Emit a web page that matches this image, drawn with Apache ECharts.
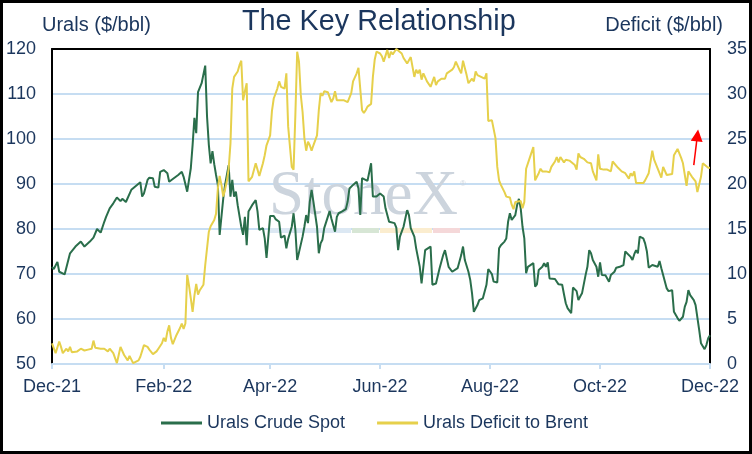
<!DOCTYPE html>
<html><head><meta charset="utf-8">
<script src="https://cdn.jsdelivr.net/npm/echarts@6/dist/echarts.min.js"></script>
<style>html,body{margin:0;padding:0;background:#fff}#c{width:752px;height:454px}</style>
</head><body><div id="c"></div>
<script>
// Axis: every calendar day from 1 Dec 2021 to 1 Dec 2022
const startYear = 2021, startMonth = 11, startDay = 1;
const dayCount = 366;
const tickDates = ['2021-12-01','2022-02-01','2022-04-01','2022-06-01','2022-08-01','2022-10-01','2022-12-01'];
const tickLabels = ['Dec-21','Feb-22','Apr-22','Jun-22','Aug-22','Oct-22','Dec-22'];

// Urals Crude Spot ($/bbl) — day = days since 1 Dec 2021
const uralsDay = [0,1,3,4,7,10,13,16,17,18,21,23,24,25,26,27,28,29,30,31,32,34,36,38,39,41,42,44,46,49,50,51,53,54,56,57,58,59,60,62,63,64,65,67,70,72,73,75,76,77,78,79,80,81,83,85,86,87,88,89,90,91,92,93,94,95,96,97,98,99,100,101,102,103,105,106,107,108,109,111,113,114,115,116,117,118,119,121,123,124,126,127,128,129,130,131,133,134,135,136,137,138,139,140,141,142,143,144,145,147,148,149,150,151,153,154,155,157,158,159,161,163,164,165,167,168,169,170,171,172,173,175,177,178,180,181,182,184,185,186,187,188,190,191,192,193,194,195,196,197,198,199,201,202,204,205,207,208,210,211,213,215,217,218,220,222,223,225,226,227,228,229,231,232,233,234,236,237,239,240,241,242,244,245,246,247,248,249,251,252,253,254,255,257,258,259,260,261,262,263,264,265,267,268,269,270,272,273,274,275,276,279,280,281,283,284,285,286,288,289,291,292,293,294,296,297,298,299,300,302,303,304,305,307,308,309,310,312,313,315,317,318,319,321,322,323,324,325,326,328,329,330,331,333,334,336,337,338,339,341,342,344,345,347,348,350,351,352,353,354,356,357,359,360,362,363,364,365];
const uralsPrice = [71.6,71.1,72.7,70.5,69.9,74.6,76.1,77.2,77.1,76.1,77.2,78.1,78.3,80.0,79.6,79.2,78.8,81.6,82.7,82.3,84.6,85.7,87.0,86.2,86.7,86.0,85.7,88.7,89.4,90.4,87.2,87.9,90.9,91.4,91.3,89.4,89.8,89.2,92.7,93.1,93.3,92.4,90.5,91.1,92.0,92.7,91.6,88.3,90.9,93.5,98.7,104.7,101.3,110.4,112.4,116.3,105.0,98.7,94.6,97.3,94.4,92.0,89.8,78.7,78.3,86.8,89.8,92.0,94.2,87.2,90.9,87.2,88.3,85.3,80.5,78.7,82.7,76.4,83.9,85.3,86.4,83.9,79.8,79.4,80.2,77.9,73.6,82.9,82.9,82.2,81.6,78.1,78.0,78.5,75.7,77.8,80.5,83.5,79.8,73.1,74.8,74.6,78.3,80.5,83.1,81.3,86.1,88.7,86.1,80.5,74.6,76.8,77.6,80.2,82.7,84.0,82.3,79.4,82.7,83.5,83.9,84.4,86.1,89.0,89.8,90.1,90.5,89.0,83.1,91.3,91.3,90.7,94.6,87.2,87.2,87.6,87.9,87.2,84.6,84.7,81.6,81.8,81.3,80.3,75.3,78.3,79.4,80.5,80.9,84.2,83.1,80.2,78.3,75.7,71.6,67.9,75.3,75.7,76.1,67.6,67.9,71.3,74.2,75.3,71.6,70.5,70.9,71.3,71.3,74.2,76.1,73.1,70.5,68.7,65.7,61.6,63.1,64.2,64.6,64.7,67.6,71.1,70.0,68.3,67.9,68.1,75.7,76.4,77.2,77.9,81.6,83.5,82.0,83.1,85.3,86.7,84.6,80.5,77.9,70.2,71.6,71.9,72.4,67.2,67.7,70.9,71.6,72.4,71.6,72.6,69.0,68.9,68.7,67.7,67.6,65.5,63.5,62.4,61.3,67.0,66.2,64.2,65.0,65.7,69.8,71.6,75.3,74.6,73.1,71.6,69.4,72.6,69.8,69.7,69.9,68.3,69.8,70.5,71.4,71.6,72.0,75.0,74.6,73.8,73.1,74.4,75.3,74.6,78.3,77.9,76.8,75.0,71.4,72.0,71.9,71.6,72.9,71.3,69.8,66.8,66.2,66.4,61.6,60.2,59.6,60.5,62.7,63.8,66.4,65.3,64.2,63.1,57.6,54.6,53.3,54.2,55.7,56.4];

// Urals Deficit to Brent ($/bbl)
const deficitDay = [0,1,2,4,5,6,8,9,10,11,14,16,17,18,20,22,23,24,27,29,30,31,32,34,36,37,38,40,42,43,45,46,48,49,51,53,54,56,58,59,60,61,62,63,64,65,66,67,68,69,71,72,73,74,75,76,77,78,79,80,81,82,84,85,87,88,90,91,92,93,94,95,96,97,98,99,100,101,103,104,105,106,107,108,109,111,112,113,115,116,117,118,119,121,122,123,125,126,127,128,129,130,131,133,134,135,136,137,138,139,140,141,142,143,144,145,147,148,149,150,151,153,154,155,156,157,158,160,162,164,166,167,169,170,172,173,174,175,177,178,179,180,182,183,184,186,187,188,189,190,191,192,194,195,197,198,199,201,202,203,204,205,206,208,209,210,212,213,214,216,217,218,219,220,222,223,224,226,227,228,229,230,231,233,234,235,236,238,240,241,242,244,245,246,247,248,249,251,252,253,254,255,256,257,258,260,261,262,263,264,265,267,268,269,270,271,272,273,274,276,277,279,280,281,282,284,285,287,288,290,291,292,293,295,296,297,299,300,302,303,304,306,307,308,310,311,312,314,315,316,317,318,320,321,322,323,324,325,326,328,329,331,332,333,334,336,337,338,339,341,342,344,345,346,347,349,350,352,353,354,355,357,358,360,361,362,364,365];
const deficitValue = [2.3,2.1,1.2,2.5,1.9,1.2,1.7,1.4,1.9,1.3,1.4,1.7,1.8,1.5,1.6,1.7,2.6,1.8,1.7,1.7,1.8,1.4,1.7,1.2,0.1,1.0,1.9,1.0,0.4,0.9,0.1,0.3,0.4,0.8,2.1,1.9,1.6,1.1,1.4,1.7,1.5,2.3,2.9,2.5,3.6,4.3,2.9,2.2,2.3,3.2,4.0,4.5,3.9,4.5,9.9,8.7,7.3,5.8,7.6,8.9,7.7,8.2,8.8,11.0,14.7,15.3,16.0,16.7,19.5,20.9,19.9,18.6,19.4,20.3,21.7,24.5,30.6,31.9,32.5,33.2,33.7,29.3,30.3,31.2,20.3,20.8,21.0,22.3,20.9,21.0,22.3,23.2,24.3,25.4,28.1,29.5,30.6,31.4,30.8,30.9,30.6,32.3,26.4,21.9,21.6,27.7,34.7,33.6,29.9,28.0,25.1,23.7,24.7,24.3,23.7,24.3,25.4,28.2,30.1,29.8,30.3,30.2,30.1,29.1,29.5,30.3,29.3,29.3,29.3,29.1,30.1,31.4,32.3,32.9,28.2,27.9,28.2,28.6,28.9,31.9,33.8,34.7,34.5,34.2,33.6,34.9,34.0,34.7,34.4,34.6,35.0,34.9,34.5,34.0,33.4,33.2,34.1,31.9,32.7,32.3,32.7,31.6,32.3,31.4,31.2,30.8,31.9,31.0,31.4,31.7,31.9,31.7,32.3,32.1,32.7,33.0,33.6,32.7,32.3,33.7,32.9,32.1,31.2,31.7,31.4,32.5,32.1,31.9,31.7,32.3,27.0,27.1,27.3,25.1,21.9,20.4,19.9,19.1,18.6,18.4,18.5,17.7,17.2,18.0,18.2,18.1,17.3,18.0,21.7,21.6,22.9,24.1,20.4,20.8,21.2,21.7,21.4,21.2,21.4,21.3,21.9,22.5,23.0,22.4,23.0,22.4,22.7,22.6,22.7,22.1,21.6,23.4,23.0,22.8,22.7,22.4,22.3,21.4,20.4,23.3,21.7,21.6,21.7,21.6,21.4,22.5,22.3,21.8,21.6,21.4,21.6,21.2,20.6,21.2,20.9,21.4,20.1,20.3,20.1,20.1,20.4,21.2,21.4,23.7,22.7,21.7,21.6,20.7,21.9,21.0,20.9,21.1,23.2,23.4,23.9,22.9,22.3,19.8,21.4,21.2,20.8,20.3,19.1,20.8,22.3,22.1,21.8,21.8];

// Red annotation arrow (day, deficit value)
const arrowFrom = [356, 22.1];
const arrowTo = [358, 25.4];

const categories = [];
const t0 = Date.UTC(startYear, startMonth, startDay);
for (let i = 0; i < dayCount; i++) {
  categories.push(new Date(t0 + i * 86400000).toISOString().slice(0, 10));
}
const isTick = (idx, val) => tickDates.indexOf(val) >= 0;

const NAVY = '#1B365D';
const GRID = '#C6DDF2';
const GREEN = '#2A6E4B';
const YELLOW = '#E6D04B';
const FONT = '"Liberation Sans", Arial, sans-serif';

const chart = echarts.init(document.getElementById('c'));
chart.setOption({
  animation: false,
  backgroundColor: '#fff',
  title: [
    { text: 'The Key Relationship', left: 242, top: 7.9, padding: 0,
      textStyle: { fontSize: 28.8, fontWeight: 'normal', color: NAVY, fontFamily: FONT } },
    { text: 'Urals ($/bbl)', left: 42, top: 15.4, padding: 0,
      textStyle: { fontSize: 20, fontWeight: 'normal', color: NAVY, fontFamily: FONT } },
    { text: 'Deficit ($/bbl)', right: 29, top: 15.4, padding: 0,
      textStyle: { fontSize: 20, fontWeight: 'normal', color: NAVY, fontFamily: FONT } }
  ],
  legend: {
    left: 161, top: 414, padding: 0, icon: 'rect', itemWidth: 41, itemHeight: 3, itemGap: 32,
    textStyle: { fontSize: 18, color: NAVY, fontFamily: FONT },
    data: ['Urals Crude Spot', 'Urals Deficit to Brent']
  },
  grid: { left: 52, right: 42, top: 49, bottom: 90, containLabel: false },
  xAxis: [
    { type: 'category', data: categories, boundaryGap: false,
      axisLine: { show: true, lineStyle: { color: GRID, width: 2 } },
      axisTick: { show: true, interval: isTick, length: 5, lineStyle: { color: GRID, width: 2 } },
      axisLabel: { interval: isTick, margin: 14, fontSize: 18, color: NAVY, fontFamily: FONT,
        formatter: (v) => tickLabels[tickDates.indexOf(v)] },
      splitLine: { show: false } },
    { type: 'category', data: categories, boundaryGap: false, position: 'top',
      axisLine: { show: true, lineStyle: { color: '#000', width: 2 } },
      axisTick: { show: false }, axisLabel: { show: false }, splitLine: { show: false } }
  ],
  yAxis: [
    { type: 'value', min: 50, max: 120, interval: 10, position: 'left',
      axisLine: { show: true, lineStyle: { color: '#000', width: 2 } },
      axisTick: { show: false },
      axisLabel: { margin: 16, fontSize: 18, color: NAVY, fontFamily: FONT },
      splitLine: { show: true, showMaxLine: false, lineStyle: { color: GRID, width: 2 } } },
    { type: 'value', min: 0, max: 35, interval: 5, position: 'right',
      axisLine: { show: true, lineStyle: { color: '#000', width: 2 } },
      axisTick: { show: false },
      axisLabel: { margin: 17, fontSize: 18, color: NAVY, fontFamily: FONT },
      splitLine: { show: false } }
  ],
  graphic: [
    { type: 'text', x: 269, y: 197, z: 1, silent: true,
      style: { text: 'StoneX', fontSize: 63, fontFamily: '"Liberation Serif", "DejaVu Serif", serif',
        fill: '#CCD4DD', align: 'left', verticalAlign: 'middle' } },
    { type: 'text', x: 460, y: 184, z: 1, silent: true,
      style: { text: '®', fontSize: 8, fontFamily: FONT, fill: '#CCD4DD', align: 'left', verticalAlign: 'middle' } },
    { type: 'rect', z: 1, silent: true, shape: { x: 270, y: 228, width: 81, height: 5 }, style: { fill: '#DCE8F3' } },
    { type: 'rect', z: 1, silent: true, shape: { x: 352, y: 228, width: 27, height: 5 }, style: { fill: '#D7E6D5' } },
    { type: 'rect', z: 1, silent: true, shape: { x: 380, y: 228, width: 52, height: 5 }, style: { fill: '#FBEDCF' } },
    { type: 'rect', z: 1, silent: true, shape: { x: 433, y: 228, width: 27, height: 5 }, style: { fill: '#F5D8D9' } },
    { type: 'rect', z: 100, silent: true, shape: { x: 1.5, y: 1.5, width: 749, height: 451 },
      style: { fill: 'none', stroke: '#000', lineWidth: 3 } }
  ],
  series: [
    { name: 'Urals Crude Spot', type: 'line', xAxisIndex: 0, yAxisIndex: 0,
      data: uralsDay.map((d, i) => [d, uralsPrice[i]]),
      showSymbol: false, symbol: 'none', lineStyle: { color: GREEN, width: 2 }, itemStyle: { color: GREEN } },
    { name: 'Urals Deficit to Brent', type: 'line', xAxisIndex: 0, yAxisIndex: 1,
      data: deficitDay.map((d, i) => [d, deficitValue[i]]),
      showSymbol: false, symbol: 'none', lineStyle: { color: YELLOW, width: 2 }, itemStyle: { color: YELLOW },
      markLine: { silent: true, animation: false, symbol: ['none', 'triangle'], symbolSize: 12,
        lineStyle: { color: '#FF0000', width: 1.5, type: 'solid' }, label: { show: false },
        data: [[{ coord: arrowFrom }, { coord: arrowTo }]] } }
  ]
});
</script></body></html>
